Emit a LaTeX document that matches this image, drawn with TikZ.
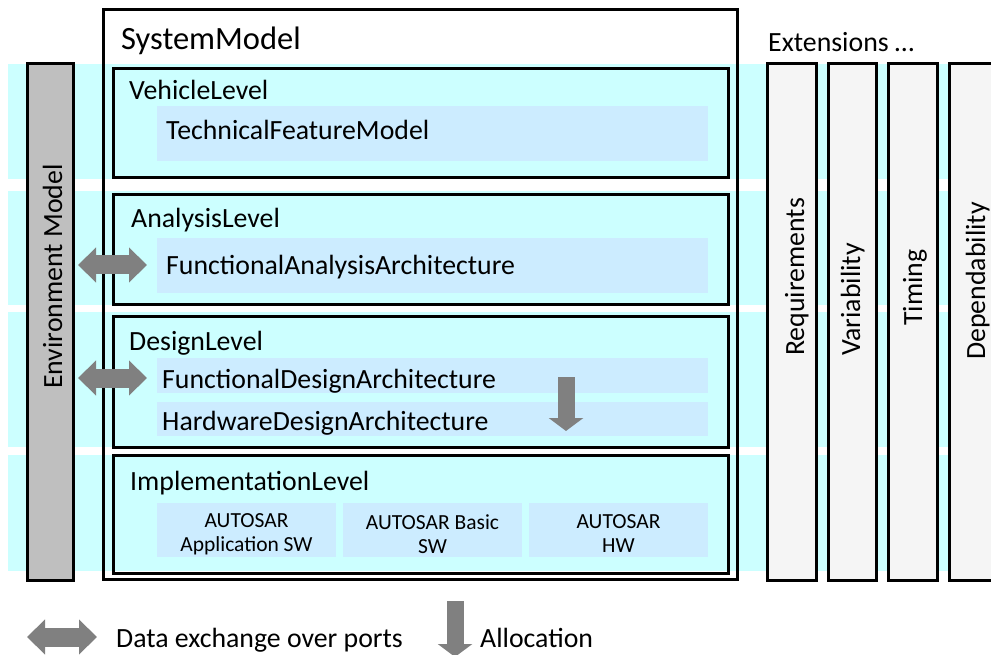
\documentclass[tikz,border=0pt]{standalone}
\usepackage{fontspec}
\setmainfont{Carlito}
\usetikzlibrary{arrows.meta,fit}
\definecolor{bandcyan}{HTML}{CCFFFF}
\definecolor{innerblue}{HTML}{CCECFF}
\definecolor{envgray}{HTML}{BFBFBF}
\definecolor{colgray}{HTML}{F5F5F5}
\definecolor{arrowgray}{HTML}{808080}
\tikzset{
  band/.style={fill=bandcyan, draw=none},
  framebox/.style={draw=black, line width=3pt, inner sep=0pt},
  levelbox/.style={framebox},
  innerbox/.style={fill=innerblue, draw=none, inner sep=0pt},
  envbox/.style={framebox, fill=envgray},
  extbox/.style={framebox, fill=colgray},
  lbl/.style={inner sep=0pt, anchor=base west, font=\fontsize{27.8}{32}\selectfont},
  titlelbl/.style={lbl, font=\fontsize{32.5}{38}\selectfont},
  vlbl/.style={lbl, rotate=90},
  autobox/.style={innerbox},
  autotext/.style={align=center, inner sep=0pt, font=\fontsize{21.5}{24}\selectfont},
  dataarrow/.style={line width=19pt, draw=arrowgray,
    {Triangle[width=34pt,length=18pt]}-{Triangle[width=34pt,length=18pt]}},
  allocarrow/.style={line width=17pt, draw=arrowgray,
    -{Triangle[width=34pt,length=13pt]}}
}
\begin{document}
\begin{tikzpicture}[x=1pt,y=-1pt]
\useasboundingbox (0,0) rectangle (991,655);
% background bands
\fill[band] (8,64) rectangle (991,179);
\fill[band] (8,191) rectangle (991,305);
\fill[band] (8,312) rectangle (991,447);
\fill[band] (8,455) rectangle (991,571);
% inner light blue boxes
\node[innerbox, fit={(157,106) (708,161)}] (tfm) {};
\node[innerbox, fit={(157,238) (708,293)}] (faa) {};
\node[innerbox, fit={(157,358) (708,393)}] (fda) {};
\node[innerbox, fit={(157,402) (708,436)}] (hda) {};
\node[autobox, fit={(157,503) (336,557)}] (aas) {};
\node[autobox, fit={(343,503) (522,557)}] (abs) {};
\node[autobox, fit={(529,503) (708,557)}] (ahw) {};
\node[autotext] (taas) at ([yshift=-4pt]aas.center) {AUTOSAR\\Application SW};
\node[autotext] (tabs) at ([yshift=-4pt]abs.center) {AUTOSAR Basic\\SW};
\node[autotext] (tahw) at ([yshift=-4pt]ahw.center) {AUTOSAR\\HW};
% frames
\node[framebox, fit={(103,10) (737,579)}] (sys) {};
\node[levelbox, fit={(113,69) (728,178)}] (veh) {};
\node[levelbox, fit={(113,195) (728,304)}] (ana) {};
\node[levelbox, fit={(113,316) (728,447)}] (des) {};
\node[levelbox, fit={(113,455) (728,573)}] (imp) {};
\node[envbox, fit={(27,64) (73,580)}] (env) {};
\node[extbox, fit={(767,64) (816,580)}] (req) {};
\node[extbox, fit={(828,64) (876,580)}] (var) {};
\node[extbox, fit={(888,64) (937,580)}] (tim) {};
\node[extbox, fit={(949,64) (996,580)}] (dep) {};
% labels
\node[titlelbl] (tsys) at (121,50) {SystemModel};
\node[lbl] (text) at (768,52) {Extensions …};
\node[lbl] (tveh) at (129,100) {VehicleLevel};
\node[lbl] (ttfm) at (166,140) {TechnicalFeatureModel};
\node[lbl] (tana) at (131,228) {AnalysisLevel};
\node[lbl] (tfaa) at (166,274) {FunctionalAnalysisArchitecture};
\node[lbl] (tdes) at (129,350) {DesignLevel};
\node[lbl] (tfda) at (162,388) {FunctionalDesignArchitecture};
\node[lbl] (thda) at (162,430) {HardwareDesignArchitecture};
\node[lbl] (timp) at (130,490) {ImplementationLevel};
\node[vlbl] (tenv) at (62,389) {Environment Model};
\node[vlbl] (treq) at (804,356) {Requirements};
\node[vlbl] (tvar) at (860,356) {Variability};
\node[vlbl] (ttim) at (922,326) {Timing};
\node[vlbl] (tdep) at (985,360) {Dependability};
% arrows
\coordinate (a1l) at (78,265);
\coordinate (a1r) at (147,265);
\coordinate (a2l) at (78,378);
\coordinate (a2r) at (147,378);
\draw[dataarrow] (a1l) -- (a1r);
\draw[dataarrow] (a2l) -- (a2r);
\coordinate (al1) at (566,377);
\coordinate (al2) at (566,431);
\draw[allocarrow] (al1) -- (al2);
% legend
\coordinate (lg1) at (27,637);
\coordinate (lg2) at (97,637);
\draw[dataarrow] (lg1) -- (lg2);
\node[lbl] (tdata) at (116,647) {Data exchange over ports};
\coordinate (lg3) at (455,601);
\coordinate (lg4) at (455,657);
\draw[allocarrow] (lg3) -- (lg4);
\node[lbl] (talloc) at (480,647) {Allocation};
\end{tikzpicture}
\end{document}
